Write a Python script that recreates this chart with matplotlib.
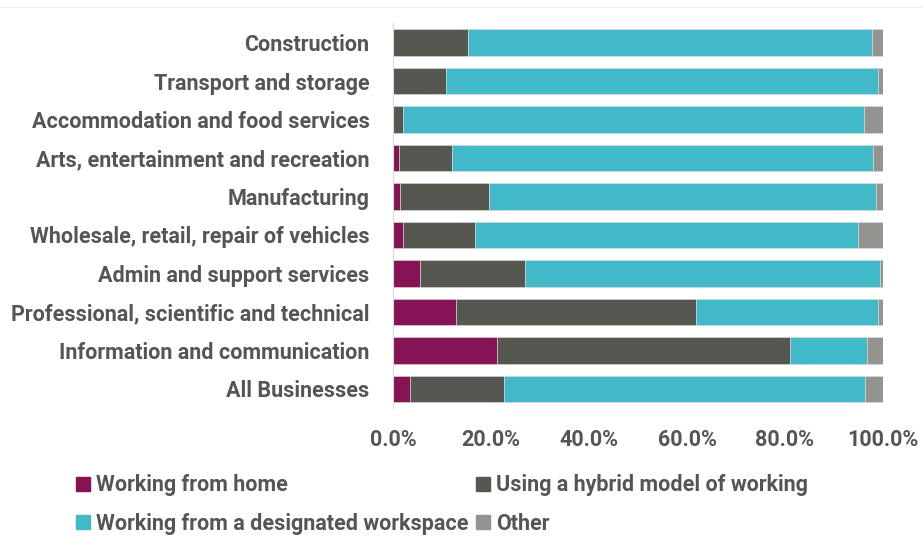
import matplotlib.pyplot as plt
import numpy as np
from matplotlib.patches import Patch
from matplotlib.lines import Line2D

# categories top to bottom
sectors = ['Construction', 'Transport and storage', 'Accommodation and food services',
           'Arts, entertainment and recreation', 'Manufacturing',
           'Wholesale, retail, repair of vehicles', 'Admin and support services',
           'Professional, scientific and technical', 'Information and communication',
           'All Businesses']

# shares in %
home = [0.0, 0.0, 0.0, 1.2, 1.4, 2.0, 5.5, 12.8, 21.2, 3.5]
hybrid = [15.3, 10.9, 2.1, 10.9, 18.2, 14.7, 21.5, 49.0, 59.9, 19.2]
workspace = [82.4, 88.0, 94.1, 85.8, 78.9, 78.2, 72.3, 37.2, 15.6, 73.6]
other = [2.3, 1.1, 3.8, 2.1, 1.5, 5.1, 0.7, 1.0, 3.3, 3.7]

series = ['Working from home', 'Using a hybrid model of working',
          'Working from a designated workspace', 'Other']
colours = ['#861353', '#555750', '#42B9C9', '#939390']

plt.rcParams['font.family'] = ['Roboto', 'DejaVu Sans']
txt = '#555555'
fs = 15.5

fig = plt.figure(figsize=(9.23, 5.42), dpi=100)
ax = fig.add_axes([393/923, 1 - 408/542, 490/923, 384.5/542])

y = np.arange(len(sectors))
left = np.zeros(len(sectors))
for vals, col in zip([home, hybrid, workspace, other], colours):
    ax.barh(y, vals, left=left, height=0.69, color=col, edgecolor='#dddddd', linewidth=0.4)
    left += np.array(vals)

ax.set_ylim(len(sectors) - 0.5, -0.5)
ax.set_xlim(0, 100)
ax.set_yticks(y)
ax.set_yticklabels(sectors, fontsize=fs, fontweight='bold', color=txt)
ax.set_xticks([0, 20, 40, 60, 80, 100])
ax.set_xticklabels(['0.0%', '20.0%', '40.0%', '60.0%', '80.0%', '100.0%'],
                   fontsize=fs, fontweight='bold', color=txt)
ax.tick_params(length=0)
ax.tick_params(axis='y', pad=17)
ax.tick_params(axis='x', pad=15)
for s in ['top', 'right', 'bottom']:
    ax.spines[s].set_visible(False)
ax.spines['left'].set_color('#d9d9d9')

# legend fills column-wise, so order the handles to read across rows
handles = [Patch(color=c, label=s) for c, s in zip(colours, series)]
handles = [handles[0], handles[2], handles[1], handles[3]]
leg = fig.legend(handles=handles, ncol=2, loc='upper left', bbox_to_anchor=(57/923, 1 - 455/542),
                 frameon=False, handlelength=0.62, handleheight=0.62, handletextpad=0.3,
                 columnspacing=0.35, labelspacing=0.75,
                 prop={'size': fs, 'weight': 'bold'})
for t in leg.get_texts():
    t.set_color(txt)

# thin frame line along the top
fig.add_artist(Line2D([0, 1], [1 - 7/542, 1 - 7/542], color='#eeeeee', lw=0.8))

fig.savefig('out.png', dpi=100)
